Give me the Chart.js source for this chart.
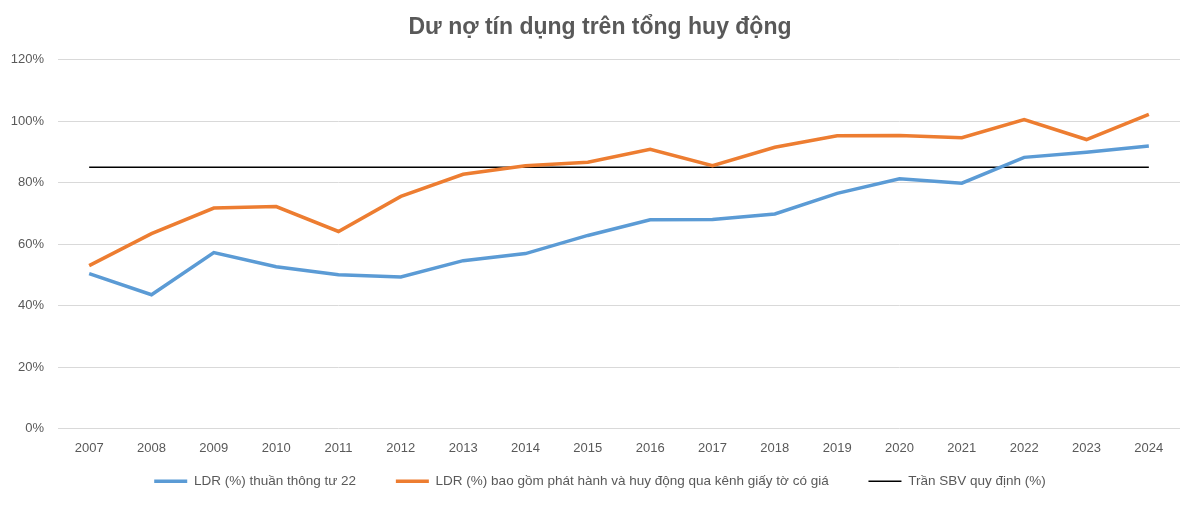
<!DOCTYPE html>
<html>
<head>
<meta charset="utf-8">
<script src="https://cdn.jsdelivr.net/npm/chart.js@4.4.0/dist/chart.umd.min.js"></script>
<style>
html,body{margin:0;padding:0;background:#fff;}
#wrap{width:1200px;height:505px;position:relative;}
</style>
</head>
<body>
<div id="wrap"><canvas id="c"></canvas></div>
<script>
const years = ["2007","2008","2009","2010","2011","2012","2013","2014","2015","2016","2017","2018","2019","2020","2021","2022","2023","2024"];
const ldrNet = [50.4,43.5,57.2,52.6,50.0,49.3,54.6,56.9,62.8,67.9,68.0,69.8,76.5,81.2,79.8,88.2,89.9,91.9];
const ldrIncl = [53.0,63.4,71.7,72.2,64.1,75.5,82.7,85.5,86.6,90.8,85.5,91.5,95.2,95.3,94.6,100.5,94.0,102.2];
const ceiling = [85,85,85,85,85,85,85,85,85,85,85,85,85,85,85,85,85,85];
const yTicks = [0,20,40,60,80,100,120];
const seriesNames = ["LDR (%) thuần thông tư 22","LDR (%) bao gồm phát hành và huy động qua kênh giấy tờ có giá","Trần SBV quy định (%)"];
const titleText = "Dư nợ tín dụng trên tổng huy động";

const FONT = "'Liberation Sans', Arial, sans-serif";
const GRAY = "#595959";
const GAP = "         ";

new Chart(document.getElementById('c'), {
  type: 'line',
  data: {
    labels: years,
    datasets: [
      {label: seriesNames[0], data: ldrNet, borderColor: '#5b9bd5', backgroundColor: '#5b9bd5', borderWidth: 3.5, pointRadius: 0, tension: 0, fill: false},
      {label: seriesNames[1], data: ldrIncl, borderColor: '#ed7d31', backgroundColor: '#ed7d31', borderWidth: 3.5, pointRadius: 0, tension: 0, fill: false},
      {label: seriesNames[2], data: ceiling, borderColor: '#000000', backgroundColor: '#000000', borderWidth: 1.5, pointRadius: 0, tension: 0, fill: false}
    ]
  },
  options: {
    responsive: true,
    maintainAspectRatio: false,
    animation: false,
    devicePixelRatio: 1,
    layout: {padding: {left: 8, right: 8, top: 0, bottom: 7}},
    plugins: {
      title: {display: true, text: titleText, color: GRAY, font: {family: FONT, size: 23, weight: 'bold'}, padding: {top: 14, bottom: 18}},
      legend: {
        position: 'bottom',
        labels: {
          usePointStyle: true, pointStyle: 'line', pointStyleWidth: 33,
          color: GRAY, font: {family: FONT, size: 13.5}, padding: 6, boxHeight: 13,
          generateLabels: (chart) => {
            const items = Chart.defaults.plugins.legend.labels.generateLabels(chart);
            items.forEach((it, i) => { if (i < items.length - 1) it.text = it.text + GAP; });
            return items;
          }
        }
      },
      tooltip: {enabled: false}
    },
    scales: {
      x: {
        offset: true,
        grid: {display: false},
        border: {display: false},
        ticks: {color: GRAY, font: {family: FONT, size: 13}, padding: 4, maxRotation: 0},
        afterFit: (axis) => { axis.height = 40; }
      },
      y: {
        min: 0, max: 120,
        afterBuildTicks: (axis) => { axis.ticks = yTicks.map(v => ({value: v})); },
        grid: {color: '#d9d9d9', lineWidth: 1, drawTicks: false},
        border: {display: false},
        ticks: {color: GRAY, font: {family: FONT, size: 13}, padding: 14, callback: v => v + '%'},
        afterFit: (axis) => { axis.width = 50; }
      },
      yRight: {
        position: 'right',
        display: true,
        min: 0, max: 120,
        grid: {display: false, drawTicks: false},
        border: {display: false},
        ticks: {display: false},
        afterFit: (axis) => { axis.width = 12; }
      }
    }
  }
});
</script>
</body>
</html>
